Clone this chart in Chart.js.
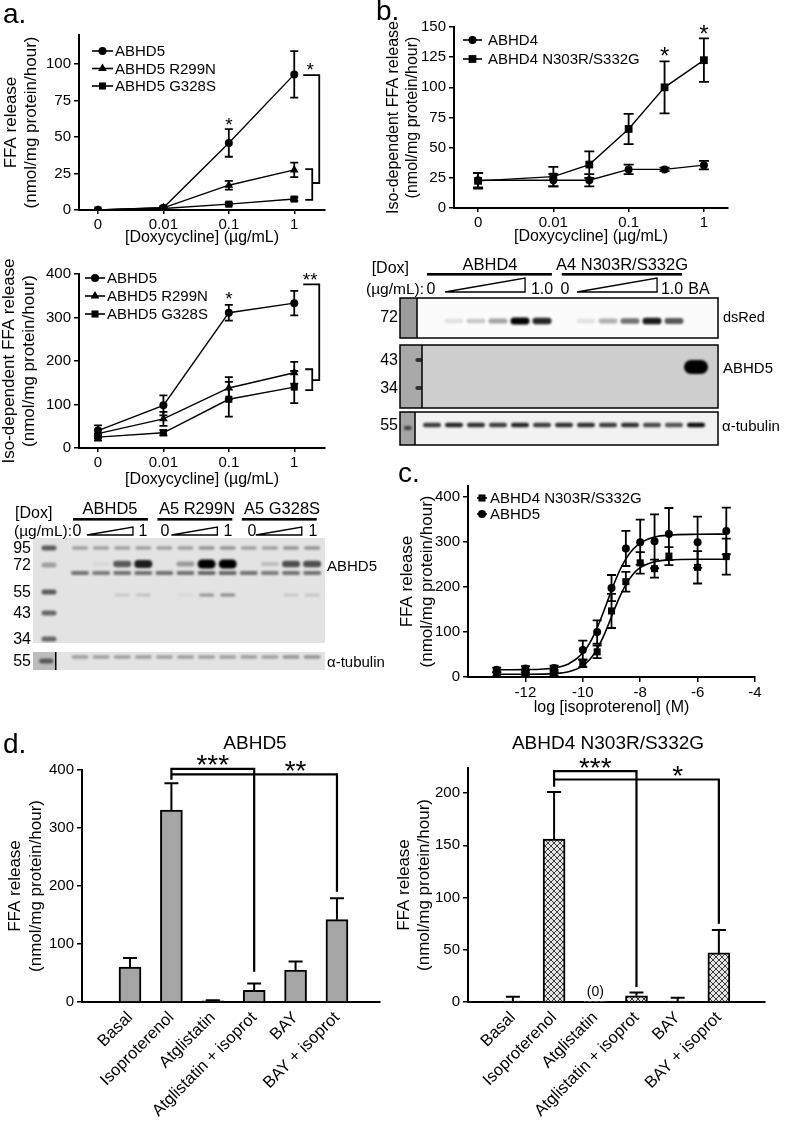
<!DOCTYPE html>
<html><head><meta charset="utf-8">
<script src="https://cdn.jsdelivr.net/npm/chart.js@4.4.1/dist/chart.umd.min.js"></script>
<style>
html,body{margin:0;padding:0;background:#fff;}
#root{position:relative;width:787px;height:1124px;overflow:hidden;background:#fff;font-family:"Liberation Sans",Arial,Helvetica,sans-serif;}
canvas{position:absolute;}
.t{position:absolute;white-space:nowrap;line-height:1;color:#000;}
</style></head>
<body><div id="root">
<canvas id="aBlot"></canvas>
<canvas id="bBlot"></canvas>
<canvas id="aTop"></canvas>
<canvas id="aMid"></canvas>
<canvas id="bTop"></canvas>
<canvas id="cChart"></canvas>
<canvas id="dLeft"></canvas>
<canvas id="dRight"></canvas>
</div>
<script>
const FONT = '"Liberation Sans", Arial, Helvetica, sans-serif';
Chart.defaults.font.family = FONT;
Chart.defaults.color = '#000';

// ================= DATA =================
// Panel a / b doxycycline doses (ug/mL)
const doseTicks = [0, 0.01, 0.1, 1];
const doseTickLabels = ['0', '0.01', '0.1', '1'];
const dosesA = [0, 0.01, 0.1, 1];
// a (top): FFA release
const aTopABHD5 = [0, 1.5, 46, 93];
const aTopABHD5Err = [0, 1, 9.5, 16];
const aTopR299N = [0, 1.5, 17, 27.5];
const aTopR299NErr = [0, 0.8, 3, 5];
const aTopG328S = [0, 1, 4, 7.5];
const aTopG328SErr = [0, 0.5, 0.8, 1.2];
// a (middle): Iso-dependent FFA release
const aMidABHD5 = [40, 98, 311, 333];
const aMidABHD5Err = [12, 23, 18, 28];
const aMidR299N = [33, 67, 138, 173];
const aMidR299NErr = [10, 16, 25, 25];
const aMidG328S = [25, 35, 112, 140];
const aMidG328SErr = [8, 6, 40, 37];
// b
const dosesB = [0, 0.01, 0.03, 0.1, 0.3, 1];
const bABHD4 = [23, 23, 23, 32, 32, 35.5];
const bABHD4Err = [6, 5, 5, 4, 1.5, 3.5];
const bMutant = [22.5, 26, 36, 65.5, 100, 122.5];
const bMutantErr = [6.5, 8, 11, 12.5, 21.5, 18];
// c: log [isoproterenol] (M)
const logIsoTicks = [-12, -10, -8, -6, -4];
const logIsoTickLabels = ['-12', '-10', '-8', '-6', '-4'];
const logIso = [-13, -12, -11, -10, -9.5, -9, -8.5, -8, -7.5, -7, -6, -5];
const cABHD5 = [16, 19, 20, 60, 100, 198, 286, 300, 302, 318, 300, 325];
const cABHD5Err = [5, 5, 5, 21, 26, 29, 39, 50, 60, 58, 57, 52];
const cMutant = [6, 6, 7, 30, 56, 147, 212, 254, 241, 269, 244, 268];
const cMutantErr = [4, 4, 4, 8, 14, 38, 22, 24, 20, 20, 36, 40];
// fitted curves
const fitX = [-13, -12, -11, -10.5, -10, -9.75, -9.5, -9.25, -9, -8.75, -8.5, -8.25, -8, -7.5, -7, -6, -5];
const fitABHD5 = [16, 16.4, 20.2, 28.9, 53.4, 76.6, 109.4, 149.7, 192.8, 232, 262.7, 284.2, 298, 311.4, 315.9, 317.6, 318];
const fitMutant = [6, 6.1, 7.6, 11.6, 24.8, 39.3, 62.3, 94.8, 134, 173.2, 205.7, 228.7, 243.2, 256.4, 260.4, 262, 262];
// d
const treatments = ['Basal', 'Isoproterenol', 'Atglistatin', 'Atglistatin + isoprot', 'BAY', 'BAY + isoprot'];
const dABHD5 = [60, 331, 2, 20, 55, 142];
const dABHD5Err = [16, 46, 1, 12, 15, 37];
const dMutant = [1, 156, 0, 6, 1, 47];
const dMutantErr = [4, 45, 0, 3, 3, 22];
// blot band intensities (0..1)
const aBlotABHD5 = [0, 0.05, 0.55, 0.8, 0, 0.3, 1, 1, 0, 0.15, 0.6, 0.6];
const aBlotLower = [0.5, 0.45, 0.5, 0.5, 0.5, 0.5, 0.55, 0.55, 0.5, 0.45, 0.5, 0.5];
const aBlot95 = [0.3, 0.3, 0.3, 0.3, 0.3, 0.3, 0.35, 0.35, 0.3, 0.3, 0.35, 0.35];
const aBlot55 = [0, 0, 0.12, 0.15, 0, 0.05, 0.35, 0.4, 0, 0, 0.12, 0.12];
const aBlotTubulin = [0.3, 0.3, 0.3, 0.3, 0.3, 0.3, 0.3, 0.3, 0.3, 0.3, 0.35, 0.35];
const bBlotDsRed = [0, 0.1, 0.2, 0.35, 1, 0.85, 0, 0.1, 0.3, 0.55, 0.9, 0.65, 0];
const bBlotABHD5 = [0, 0, 0, 0, 0, 0, 0, 0, 0, 0, 0, 0, 1];
const bBlotTubulin = [0.75, 0.85, 0.8, 0.75, 0.85, 0.75, 0.8, 0.8, 0.75, 0.8, 0.7, 0.65, 0.95];

// ================= HELPERS =================
const doseX = d => d === 0 ? -3 : Math.log10(d);
const pts = (xs, ys) => xs.map((x, i) => ({x: x, y: ys[i]}));

function drawMarker(ctx, style, x, y, r) {
  ctx.beginPath();
  if (style === 'rect') { const s = r * Math.SQRT1_2; ctx.rect(x - s, y - s, 2 * s, 2 * s); }
  else if (style === 'triangle') { ctx.moveTo(x, y - r); ctx.lineTo(x + r * 0.866, y + r * 0.5); ctx.lineTo(x - r * 0.866, y + r * 0.5); ctx.closePath(); }
  else { ctx.arc(x, y, r, 0, 2 * Math.PI); }
  ctx.fill();
}

const errPlugin = {
  id: 'errbars',
  afterDatasetsDraw(chart) {
    const ctx = chart.ctx, ys = chart.scales.y;
    chart.data.datasets.forEach((ds, i) => {
      if (!ds.errors) return;
      const meta = chart.getDatasetMeta(i);
      ctx.save(); ctx.strokeStyle = '#000'; ctx.lineWidth = ds.errWidth || 1.8;
      meta.data.forEach((el, j) => {
        const e = ds.errors[j]; if (!e) return;
        const v = ds.data[j].y, x = el.x, c = ds.capHalf || 4;
        const yT = ys.getPixelForValue(v + e);
        const yB = ds.errUp ? ys.getPixelForValue(v) : ys.getPixelForValue(v - e);
        ctx.beginPath(); ctx.moveTo(x, yT); ctx.lineTo(x, yB);
        ctx.moveTo(x - c, yT); ctx.lineTo(x + c, yT);
        if (!ds.errUp) { ctx.moveTo(x - c, yB); ctx.lineTo(x + c, yB); }
        ctx.stroke();
      });
      ctx.restore();
    });
  }
};

const annotPlugin = {
  id: 'annot',
  afterDatasetsDraw(chart, args, o) {
    if (!o) return;
    const ctx = chart.ctx, xs = chart.scales.x, ys = chart.scales.y;
    const px = p => xs.getPixelForValue(p[0]) + (p[1] || 0);
    const py = p => ys.getPixelForValue(p[2]);
    ctx.save(); ctx.strokeStyle = '#000'; ctx.lineWidth = o.lw || 1.8; ctx.lineJoin = 'miter'; ctx.lineCap = 'butt';
    (o.lines || []).forEach(line => {
      ctx.beginPath();
      line.forEach((p, i) => { const X = px(p), Y = py(p); if (i) ctx.lineTo(X, Y); else ctx.moveTo(X, Y); });
      ctx.stroke();
    });
    ctx.fillStyle = '#000'; ctx.textAlign = 'center'; ctx.textBaseline = 'middle';
    (o.marks || []).forEach(s => {
      const size = s.size || 18;
      ctx.font = size + 'px ' + FONT;
      ctx.fillText(s.text, px(s.p), py(s.p) + size * (s.off == null ? 0.22 : s.off));
    });
    (o.texts || []).forEach(t => {
      ctx.font = t.size + 'px ' + FONT;
      ctx.fillText(t.text, t.x, t.y);
    });
    ctx.restore();
  }
};

const legendPlugin = {
  id: 'lineLegend',
  afterDatasetsDraw(chart, args, o) {
    if (!o || o.x == null) return;
    const ctx = chart.ctx;
    ctx.save(); ctx.fillStyle = '#000'; ctx.strokeStyle = '#000'; ctx.lineWidth = 1.6;
    ctx.font = (o.size || 15) + 'px ' + FONT; ctx.textBaseline = 'middle'; ctx.textAlign = 'left';
    let k = 0;
    chart.data.datasets.forEach(ds => {
      if (ds.noLegend) return;
      const y = o.y + k * o.dy; k++;
      ctx.beginPath(); ctx.moveTo(o.x, y); ctx.lineTo(o.x + o.len, y); ctx.stroke();
      drawMarker(ctx, ds.pointStyle, o.x + o.len / 2, y, ds.pointRadius);
      ctx.fillText(ds.label, o.x + o.len + o.gap, y + 1);
    });
    ctx.restore();
  }
};

function series(label, xs, ys, errs, style, r, cap) {
  return {type: 'line', label: label, data: pts(xs, ys), errors: errs, capHalf: cap || 4,
    borderColor: '#000', backgroundColor: '#000', borderWidth: 1.4, pointStyle: style, pointRadius: r,
    pointBackgroundColor: '#000', pointBorderColor: '#000', pointBorderWidth: 0, tension: 0, showLine: true, fill: false};
}

function xyChart(id, cv, plot, cfg) {
  const el = document.getElementById(id);
  el.width = cv.w; el.height = cv.h; el.style.left = cv.l + 'px'; el.style.top = cv.t + 'px';
  const yW = plot.l - cv.l, xH = cv.t + cv.h - plot.b;
  const xTV = cfg.xTickVals, xTL = cfg.xTickLabels, yTV = cfg.yTickVals;
  return new Chart(el, {
    type: cfg.type || 'line',
    data: {datasets: cfg.datasets},
    options: {
      responsive: false, maintainAspectRatio: false, animation: false, devicePixelRatio: 1,
      layout: {padding: {left: 0, right: cv.l + cv.w - plot.r, top: plot.t - cv.t, bottom: 0}},
      plugins: {legend: {display: false}, tooltip: {enabled: false}, title: {display: false},
        annot: cfg.annot || {}, lineLegend: cfg.legend || {}},
      scales: {
        x: {type: 'linear', min: cfg.xMin, max: cfg.xMax, offset: false,
          afterBuildTicks: s => { s.ticks = xTV.map(v => ({value: v})); },
          afterFit: s => { s.height = xH; },
          ticks: {autoSkip: false, font: {size: cfg.xTickSize || 15, family: FONT}, color: '#000',
            padding: cfg.xTickPad == null ? 2 : cfg.xTickPad, minRotation: cfg.xRot || 0, maxRotation: cfg.xRot || 0,
            callback: v => { const k = xTV.indexOf(v); return k < 0 ? '' : xTL[k]; }},
          grid: {display: true, offset: false, drawOnChartArea: false, drawTicks: (cfg.xTickLen || 0) > 0, tickLength: cfg.xTickLen || 0, color: '#000', lineWidth: 1.5},
          border: {display: true, color: '#000', width: 2},
          title: {display: !!cfg.xTitle, text: cfg.xTitle || '', font: {size: 16, family: FONT, lineHeight: 1.2}, color: '#000', padding: {top: 0, bottom: cfg.xTitlePad || 0}}
        },
        y: {type: 'linear', min: cfg.yMin, max: cfg.yMax,
          afterBuildTicks: s => { s.ticks = yTV.map(v => ({value: v})); },
          afterFit: s => { s.width = yW; },
          ticks: {font: {size: 15, family: FONT}, color: '#000', padding: 3, callback: v => String(v)},
          grid: {display: true, drawOnChartArea: false, drawTicks: true, tickLength: 5, color: '#000', lineWidth: 1.5},
          border: {display: true, color: '#000', width: 2},
          title: {display: true, text: cfg.yTitle, font: {size: cfg.yTitleSize || 17, family: FONT, lineHeight: 1.2}, color: '#000', padding: {top: cfg.yTitlePad || 0, bottom: 0}}
        }
      }
    },
    plugins: [errPlugin, annotPlugin, legendPlugin]
  });
}

const root = document.getElementById('root');
function txt(s, x, y, size, align, weight) {
  const d = document.createElement('div');
  d.className = 't'; d.textContent = s;
  d.style.fontSize = size + 'px';
  if (weight) d.style.fontWeight = weight;
  d.style.left = x + 'px'; d.style.top = (y - size * 0.5) + 'px';
  d.style.transform = align === 'c' ? 'translateX(-50%)' : (align === 'r' ? 'translateX(-100%)' : 'none');
  root.appendChild(d);
}

// ================= PANEL a (top) =================
const doseTickX = doseTicks.map(doseX);
const xA = dosesA.map(doseX);
const yTitle1 = ['FFA release', '(nmol/mg protein/hour)'];
const yTitleIso = ['Iso-dependent FFA release', '(nmol/mg protein/hour)'];
xyChart('aTop', {l: 0, t: 0, w: 380, h: 250}, {l: 79, t: 35, r: 325, b: 210}, {
  xMin: -3.29, xMax: 0.47, xTickVals: doseTickX, xTickLabels: doseTickLabels, xTickLen: 4,
  xTitle: '[Doxycycline] (\u00b5g/mL)', xTitlePad: 2.4,
  yMin: 0, yMax: 120, yTickVals: [0, 25, 50, 75, 100], yTitle: yTitle1, yTitlePad: 0.8,
  datasets: [
    series('ABHD5', xA, aTopABHD5, aTopABHD5Err, 'circle', 4),
    series('ABHD5 R299N', xA, aTopR299N, aTopR299NErr, 'triangle', 5),
    series('ABHD5 G328S', xA, aTopG328S, aTopG328SErr, 'rect', 5)
  ],
  legend: {x: 92, y: 51, dy: 17.5, len: 21, gap: 2, size: 15},
  annot: {lines: [
      [[0, 9, 92.5], [0, 25, 92.5], [0, 25, 18.5], [0, 18, 18.5]],
      [[0, 11, 28], [0, 18, 28], [0, 18, 7], [0, 11, 7]]],
    marks: [{p: [0, 16, 98], text: '*', size: 19}, {p: [-1, 0, 60.5], text: '*', size: 19}]}
});

// ================= PANEL a (middle) =================
xyChart('aMid', {l: 0, t: 250, w: 380, h: 245}, {l: 79, t: 274, r: 325, b: 448}, {
  xMin: -3.29, xMax: 0.47, xTickVals: doseTickX, xTickLabels: doseTickLabels, xTickLen: 4,
  xTitle: '[Doxycycline] (\u00b5g/mL)', xTitlePad: 5.4,
  yMin: 0, yMax: 400, yTickVals: [0, 100, 200, 300, 400], yTitle: yTitleIso, yTitlePad: -1,
  datasets: [
    series('ABHD5', xA, aMidABHD5, aMidABHD5Err, 'circle', 4),
    series('ABHD5 R299N', xA, aMidR299N, aMidR299NErr, 'triangle', 5),
    series('ABHD5 G328S', xA, aMidG328S, aMidG328SErr, 'rect', 5)
  ],
  legend: {x: 85, y: 28, dy: 18, len: 20, gap: 2, size: 15},
  annot: {lines: [
      [[0, 9, 376], [0, 25, 376], [0, 25, 156], [0, 18, 156]],
      [[0, 11, 181], [0, 18, 181], [0, 18, 133], [0, 11, 133]]],
    marks: [{p: [0, 16, 394], text: '**', size: 19}, {p: [-1, 0, 351], text: '*', size: 19}]}
});

// ================= PANEL b =================
const xB = dosesB.map(doseX);
xyChart('bTop', {l: 380, t: 0, w: 407, h: 250}, {l: 454, t: 27, r: 728, b: 208}, {
  xMin: -3.32, xMax: 0.32, xTickVals: doseTickX, xTickLabels: doseTickLabels, xTickLen: 4,
  xTitle: '[Doxycycline] (\u00b5g/mL)', xTitlePad: 3.4,
  yMin: 0, yMax: 150, yTickVals: [0, 25, 50, 75, 100, 125, 150], yTitle: yTitleIso, yTitlePad: 3.5, yTitleSize: 16,
  datasets: [
    series('ABHD4', xB, bABHD4, bABHD4Err, 'circle', 4, 5),
    series('ABHD4 N303R/S332G', xB, bMutant, bMutantErr, 'rect', 5.5, 5)
  ],
  legend: {x: 83, y: 40, dy: 19, len: 19, gap: 6, size: 15},
  annot: {marks: [{p: [doseX(0.3), 0, 129], text: '*', size: 24}, {p: [0, 0, 147.5], text: '*', size: 24}]}
});

// ================= PANEL c =================
const curve = (label, ys) => ({type: 'line', label: label, data: pts(fitX, ys), noLegend: true, borderColor: '#000',
  borderWidth: 1.6, pointRadius: 0, cubicInterpolationMode: 'monotone', showLine: true, fill: false});
const scatterSeries = (label, ys, errs, style, r) => ({type: 'line', label: label, data: pts(logIso, ys), errors: errs, capHalf: 4.5,
  showLine: false, pointStyle: style, pointRadius: r, pointBackgroundColor: '#000', pointBorderColor: '#000', pointBorderWidth: 0, borderColor: '#000'});
xyChart('cChart', {l: 380, t: 455, w: 407, h: 265}, {l: 468, t: 486, r: 755, b: 677}, {
  xMin: -14, xMax: -4, xTickVals: logIsoTicks, xTickLabels: logIsoTickLabels, xTickLen: 5,
  xTitle: 'log [isoproterenol] (M)', xTitlePad: 2.4,
  yMin: 0, yMax: 425, yTickVals: [0, 100, 200, 300, 400], yTitle: yTitle1, yTitlePad: 16.8,
  datasets: [
    scatterSeries('ABHD4 N303R/S332G', cMutant, cMutantErr, 'rect', 5),
    scatterSeries('ABHD5', cABHD5, cABHD5Err, 'circle', 4),
    curve('ABHD4 N303R/S332G fit', fitMutant),
    curve('ABHD5 fit', fitABHD5)
  ],
  legend: {x: 97, y: 43, dy: 16, len: 10, gap: 3, size: 15}
});

// ================= PANEL d =================
const treatX = treatments.map((t, i) => i);
function hatchPattern() {
  const c = document.createElement('canvas'); c.width = 6; c.height = 6;
  const g = c.getContext('2d');
  g.fillStyle = '#e4e4e4'; g.fillRect(0, 0, 6, 6);
  g.strokeStyle = '#3a3a3a'; g.lineWidth = 1;
  g.beginPath(); g.moveTo(0, 0); g.lineTo(6, 6); g.moveTo(6, 0); g.lineTo(0, 6);
  g.moveTo(-3, 3); g.lineTo(3, 9); g.moveTo(3, -3); g.lineTo(9, 3);
  g.moveTo(-3, 3); g.lineTo(3, -3); g.moveTo(3, 9); g.lineTo(9, 3);
  g.stroke();
  return g.createPattern(c, 'repeat');
}
function barSeries(label, ys, errs, fill) {
  return {type: 'bar', label: label, data: pts(treatX, ys), errors: errs, errUp: true, capHalf: 7, errWidth: 2,
    backgroundColor: fill, borderColor: '#000', borderWidth: c => (c.raw && c.raw.y === 0) ? 0 : 2,
    borderSkipped: 'bottom', barThickness: 22, noLegend: true};
}
xyChart('dLeft', {l: 0, t: 720, w: 395, h: 404}, {l: 82, t: 770, r: 380, b: 1002}, {
  type: 'bar', xMin: -1.16, xMax: 6.04, xTickVals: treatX, xTickLabels: treatments, xTickLen: 0, xRot: 45, xTickSize: 16.5, xTickPad: 6,
  yMin: 0, yMax: 400, yTickVals: [0, 100, 200, 300, 400], yTitle: yTitle1, yTitlePad: 5.3,
  datasets: [barSeries('ABHD5', dABHD5, dABHD5Err, '#a5a5a5')],
  annot: {lw: 2.2, lines: [
      [[1, 0, 383], [1, 0, 402], [3, 0, 402], [3, 0, 52]],
      [[1, 0, 392.6], [5, 0, 392.6], [5, 0, 190]]],
    marks: [{p: [2, 0, 417], text: '***', size: 28}, {p: [4, 0, 407], text: '**', size: 28}],
    texts: [{text: 'ABHD5', x: 255, y: 24, size: 19}]}
});
xyChart('dRight', {l: 395, t: 720, w: 392, h: 404}, {l: 468, t: 768, r: 765, b: 1002}, {
  type: 'bar', xMin: -1.09, xMax: 6.12, xTickVals: treatX, xTickLabels: treatments, xTickLen: 0, xRot: 45, xTickSize: 16.5, xTickPad: 6,
  yMin: 0, yMax: 224, yTickVals: [0, 50, 100, 150, 200], yTitle: yTitle1, yTitlePad: -1,
  datasets: [barSeries('ABHD4 N303R/S332G', dMutant, dMutantErr, hatchPattern())],
  annot: {lw: 2.2, lines: [
      [[1, 0, 206], [1, 0, 221], [3, 0, 221], [3, 0, 14.4]],
      [[1, 0, 213], [5, 0, 213], [5, 0, 75]]],
    marks: [{p: [2, 0, 229], text: '***', size: 28}, {p: [4, 0, 221], text: '*', size: 28},
      {p: [2, 0, 10], text: '(0)', size: 14, off: 0.05}],
    texts: [{text: 'ABHD4 N303R/S332G', x: 213, y: 24, size: 19}]}
});

// ================= BLOTS =================
function band(ctx, cx, cy, w, h, a, blur) {
  if (!a) return;
  ctx.save(); ctx.filter = 'blur(' + (blur || 1) + 'px)';
  ctx.fillStyle = 'rgba(0,0,0,' + Math.min(1, a) + ')';
  ctx.beginPath(); ctx.roundRect(cx - w / 2, cy - h / 2, w, h, h / 2); ctx.fill();
  ctx.restore();
}
function blotChart(id, cv, lane0, step, drawFn) {
  const el = document.getElementById(id);
  el.width = cv.w; el.height = cv.h; el.style.left = cv.l + 'px'; el.style.top = cv.t + 'px';
  return new Chart(el, {
    type: 'scatter', data: {datasets: []},
    options: {responsive: false, animation: false, devicePixelRatio: 1, layout: {padding: 0},
      plugins: {legend: {display: false}, tooltip: {enabled: false}},
      scales: {x: {type: 'linear', display: false, min: (cv.l - lane0) / step, max: (cv.l + cv.w - lane0) / step},
               y: {type: 'linear', display: false, min: 0, max: cv.h, reverse: true}}},
    plugins: [{id: 'blot' + id, beforeDatasetsDraw(chart) {
      drawFn(chart.ctx, v => chart.scales.x.getPixelForValue(v), v => chart.scales.y.getPixelForValue(v));
    }}]
  });
}
function wedge(ctx, x0, x1, yb, yt) {
  ctx.save(); ctx.strokeStyle = '#000'; ctx.lineWidth = 1.3; ctx.fillStyle = '#fff';
  ctx.beginPath(); ctx.moveTo(x0, yb); ctx.lineTo(x1, yb); ctx.lineTo(x1, yt); ctx.closePath(); ctx.fill(); ctx.stroke();
  ctx.restore();
}
// panel a blot: lanes 0..11, lane0 at x=80, spacing 21.1
const aGroupStarts = [0, 4, 8];
blotChart('aBlot', {l: 0, t: 500, w: 395, h: 172}, 80, 21.1, (ctx, X, Y) => {
  ctx.fillStyle = '#000';
  aGroupStarts.forEach(s => { ctx.fillRect(X(s - 0.33), Y(18), X(s + 3.22) - X(s - 0.33), 2.6); });
  aGroupStarts.forEach(s => wedge(ctx, X(s + 0.33), X(s + 2.51), Y(35), Y(27)));
  ctx.fillStyle = '#e3e3e3'; ctx.fillRect(X(-2.227), Y(38), X(11.611) - X(-2.227), Y(143) - Y(38));
  [[48, 0.6], [65, 0.3], [92, 0.6], [113, 0.55], [139, 0.55]].forEach(m => band(ctx, X(-1.47), Y(m[0]), 15, 5, m[1], 0.8));
  for (let i = 0; i < 12; i++) {
    band(ctx, X(i), Y(48), 16, 3.5, aBlot95[i], 0.8);
    band(ctx, X(i), Y(73), 18, 4, aBlotLower[i], 0.8);
    band(ctx, X(i), Y(64), 18, 3 + 6 * aBlotABHD5[i], aBlotABHD5[i] * 1.1, 1);
    band(ctx, X(i), Y(95), 15, 3, aBlot55[i], 0.9);
  }
  ctx.fillStyle = '#e3e3e3'; ctx.fillRect(X(-2.227), Y(152), X(11.611) - X(-2.227), Y(170) - Y(152));
  ctx.fillStyle = '#bdbdbd'; ctx.fillRect(X(-2.227), Y(152), X(-1.185) - X(-2.227), Y(170) - Y(152));
  ctx.fillStyle = '#000'; ctx.fillRect(X(-1.185), Y(152), 1.5, Y(170) - Y(152));
  band(ctx, X(-1.6), Y(161), 14, 5, 0.55, 0.8);
  for (let i = 0; i < 12; i++) band(ctx, X(i), Y(157), 17, 3.5, aBlotTubulin[i], 0.8);
});
// panel b blot: lanes 0..12, lane0 at x=432, spacing 22
blotChart('bBlot', {l: 360, t: 250, w: 427, h: 200}, 432, 22, (ctx, X, Y) => {
  ctx.fillStyle = '#000';
  [[-0.23, 5.45], [5.9, 11.36]].forEach(u => ctx.fillRect(X(u[0]), Y(23), X(u[1]) - X(u[0]), 2.6));
  [[0.59, 4.23], [6.59, 10.23]].forEach(w => wedge(ctx, X(w[0]), X(w[1]), Y(42), Y(28)));
  const L = X(-1.4545), R = X(13.0);
  function strip(y0, y1, bg, mk, mkEnd) {
    ctx.fillStyle = bg; ctx.fillRect(L, Y(y0), R - L, Y(y1) - Y(y0));
    ctx.fillStyle = mk; ctx.fillRect(L, Y(y0), X(mkEnd) - L, Y(y1) - Y(y0));
    ctx.strokeStyle = '#000'; ctx.lineWidth = 1.5;
    ctx.beginPath(); ctx.moveTo(X(mkEnd), Y(y0)); ctx.lineTo(X(mkEnd), Y(y1)); ctx.stroke();
    ctx.strokeRect(L, Y(y0), R - L, Y(y1) - Y(y0));
  }
  strip(48, 88, '#fbfbfb', '#9c9c9c', -0.682);
  for (let i = 0; i < 13; i++) band(ctx, X(i), Y(71), 19, 4 + 3 * bBlotDsRed[i], bBlotDsRed[i], 1);
  strip(95, 158, '#cfcfcf', '#a9a9a9', -0.4545);
  band(ctx, X(-0.6), Y(110), 7, 4, 0.7, 0.6);
  band(ctx, X(-0.6), Y(138), 7, 4, 0.7, 0.6);
  for (let i = 0; i < 13; i++) band(ctx, X(i), Y(117), 24, 14, bBlotABHD5[i], 1.2);
  strip(162, 195, '#f2f2f2', '#a5a5a5', -0.773);
  band(ctx, X(-1.1), Y(178), 8, 4, 0.6, 0.8);
  for (let i = 0; i < 13; i++) band(ctx, X(i), Y(175), 18, 4.5, bBlotTubulin[i], 0.9);
});

// ================= TEXT LABELS =================
txt('a.', 3, 14, 28); txt('b.', 376, 11, 28); txt('c.', 398, 473, 28); txt('d.', 3, 744, 28);
// a blot
txt('[Dox]', 15, 513, 16); txt('(\u00b5g/mL):', 14, 531, 15.5);
txt('ABHD5', 110, 508, 16.5, 'c'); txt('A5 R299N', 197, 508, 16.5, 'c'); txt('A5 G328S', 282, 508, 16.5, 'c');
[[77, '0'], [143, '1'], [165, '0'], [228, '1'], [252, '0'], [313, '1']].forEach(p => txt(p[1], p[0], 531, 16, 'c'));
[['95', 548], ['72', 565], ['55', 592], ['43', 613], ['34', 639], ['55', 661]].forEach(p => txt(p[0], 31, p[1], 16, 'r'));
txt('ABHD5', 327, 565, 15); txt('\u03b1-tubulin', 327, 661, 15);
// b blot
txt('[Dox]', 409, 268, 16, 'r'); txt('(\u00b5g/mL):', 424, 289, 15.5, 'r');
txt('ABHD4', 490, 264, 16.5, 'c'); txt('A4 N303R/S332G', 622, 264, 16.5, 'c');
[[431, '0'], [542, '1.0'], [565, '0'], [672, '1.0'], [699, 'BA']].forEach(p => txt(p[1], p[0], 289, 16, 'c'));
[['72', 317], ['43', 360], ['34', 388], ['55', 425]].forEach(p => txt(p[0], 398, p[1], 16, 'r'));
txt('dsRed', 723, 317, 14.5); txt('ABHD5', 723, 367, 15); txt('\u03b1-tubulin', 722, 425, 15);
</script></body></html>
